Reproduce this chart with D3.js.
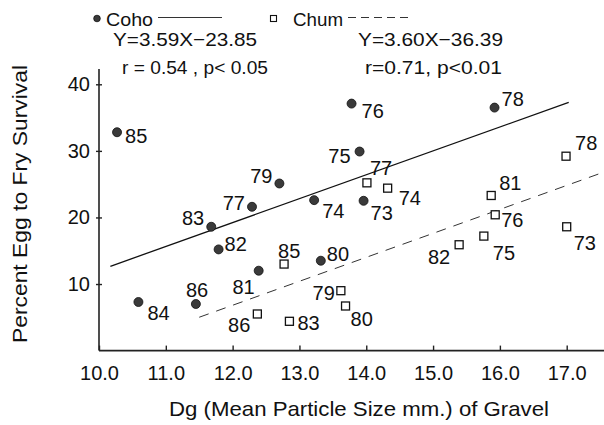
<!DOCTYPE html>
<html>
<head>
<meta charset="utf-8">
<script src="https://cdn.jsdelivr.net/npm/d3@7"></script>
<style>
  html, body { margin: 0; padding: 0; background: #fff; }
  svg { display: block; font-family: "Liberation Sans", Arial, Helvetica, sans-serif; }
  text { fill: #111; }
</style>
</head>
<body>
<svg id="chart" width="604" height="425"></svg>
<script>
// Coho salmon: mean gravel particle size (mm) vs percent egg-to-fry survival, by brood year
const cohoYear = ["85", "79", "77", "83", "74", "82", "75", "76", "78", "73", "81", "80", "86", "84"];
const cohoDg   = [10.27, 12.70, 12.29, 11.68, 13.22, 11.79, 13.90, 13.78, 15.92, 13.96, 12.39, 13.32, 11.45, 10.59];
const cohoSurv = [32.8, 25.1, 21.6, 18.6, 22.6, 15.2, 29.9, 37.1, 36.5, 22.5, 12.0, 13.5, 7.0, 7.3];

// Chum salmon
const chumYear = ["77", "74", "81", "76", "78", "73", "75", "82", "85", "79", "80", "86", "83"];
const chumDg   = [14.01, 14.32, 15.87, 15.93, 16.99, 17.00, 15.76, 15.39, 12.77, 13.62, 13.69, 12.37, 12.85];
const chumSurv = [25.2, 24.4, 23.3, 20.4, 29.2, 18.6, 17.2, 15.9, 13.0, 9.0, 6.7, 5.5, 4.4];

// Regression fits (slope, intercept) and the x-range each line spans
const cohoFit = [3.59, -23.85];
const chumFit = [3.60, -36.39];
const cohoFitRange = [10.17, 17.03];
const chumFitRange = [11.50, 17.56];

const xTicks = [10, 11, 12, 13, 14, 15, 16, 17];
const xTickLabels = ["10.0", "11.0", "12.0", "13.0", "14.0", "15.0", "16.0", "17.0"];
const yTicks = [10, 20, 30, 40];

// Year-label placement around each marker: [anchor, dx, dy]
const cohoLabelPos = {
  "85": ["start", 8, 11], "79": ["end", -7, 0], "77": ["end", -7, 3], "83": ["end", -7, -2],
  "74": ["start", 8, 18], "82": ["start", 6, 2], "75": ["end", -9, 11], "76": ["start", 10, 14],
  "78": ["start", 7, -2], "73": ["start", 7, 19], "81": ["end", -4, 23], "80": ["start", 6, 0],
  "86": ["start", -10, -7], "84": ["start", 9, 18]
};
const chumLabelPos = {
  "77": ["start", 3, -8], "74": ["start", 11, 17], "81": ["start", 8, -5], "76": ["start", 6, 12],
  "78": ["start", 9, -6], "73": ["start", 7, 23], "75": ["start", 9, 24], "82": ["end", -9, 19],
  "85": ["start", -6, -6], "79": ["end", -6, 9], "80": ["start", 5, 20], "86": ["end", -7, 18],
  "83": ["start", 8, 9]
};

const svg = d3.select("#chart");

const x = d3.scaleLinear().domain([10, 17]).range([99, 566.7]);
const y = d3.scaleLinear().domain([0, 40]).range([350.6, 84.3]);

// Axis lines
svg.append("line")
  .attr("x1", x(10)).attr("x2", x(10))
  .attr("y1", y(42.3)).attr("y2", y(0))
  .attr("stroke", "#222").attr("stroke-width", 1.6);
svg.append("line")
  .attr("x1", x(10)).attr("x2", 604)
  .attr("y1", y(0)).attr("y2", y(0))
  .attr("stroke", "#222").attr("stroke-width", 1.6);

// X axis
const xAxis = d3.axisBottom(x)
  .tickValues(xTicks)
  .tickFormat((d, i) => xTickLabels[i])
  .tickSizeInner(-4).tickSizeOuter(0).tickPadding(15);
const gx = svg.append("g").attr("transform", `translate(0,${y(0)})`).call(xAxis);
gx.select(".domain").remove();
gx.selectAll(".tick line").attr("stroke", "#222").attr("stroke-width", 1.4).attr("y2", -5);
gx.selectAll(".tick text").attr("font-size", 20).attr("font-family", null).attr("fill", "#111");

// Y axis
const yAxis = d3.axisLeft(y).tickValues(yTicks).tickSizeInner(0).tickSizeOuter(0).tickPadding(9);
const gy = svg.append("g").attr("transform", `translate(${x(10)},0)`).call(yAxis);
gy.select(".domain").remove();
gy.selectAll(".tick line").attr("x1", -3).attr("x2", 3).attr("stroke", "#222").attr("stroke-width", 1.4);
gy.selectAll(".tick text").attr("font-size", 20).attr("font-family", null).attr("fill", "#111");

// Axis titles
svg.append("text")
  .attr("x", 359).attr("y", 416)
  .attr("text-anchor", "middle")
  .attr("font-size", 21)
  .attr("textLength", 380).attr("lengthAdjust", "spacingAndGlyphs")
  .text("Dg (Mean Particle Size mm.) of Gravel");

svg.append("text")
  .attr("transform", "translate(27,204) rotate(-90)")
  .attr("text-anchor", "middle")
  .attr("font-size", 21)
  .attr("textLength", 278).attr("lengthAdjust", "spacingAndGlyphs")
  .text("Percent Egg to Fry Survival");

// Regression lines
const fitLine = (fit, range) => range.map(v => [x(v), y(fit[0] * v + fit[1])]);
const line = d3.line();
svg.append("path")
  .attr("d", line(fitLine(cohoFit, cohoFitRange)))
  .attr("stroke", "#111").attr("stroke-width", 1.3).attr("fill", "none");
svg.append("path")
  .attr("d", line(fitLine(chumFit, chumFitRange)))
  .attr("stroke", "#333").attr("stroke-width", 1).attr("fill", "none")
  .attr("stroke-dasharray", "10,8");

// Markers
const coho = cohoYear.map((yr, i) => ({ yr, dg: cohoDg[i], s: cohoSurv[i] }));
const chum = chumYear.map((yr, i) => ({ yr, dg: chumDg[i], s: chumSurv[i] }));

svg.append("g").selectAll("circle").data(coho).join("circle")
  .attr("cx", d => x(d.dg)).attr("cy", d => y(d.s)).attr("r", 4.5)
  .attr("fill", "#3a3a3a").attr("stroke", "#111").attr("stroke-width", 0.8);

svg.append("g").selectAll("rect").data(chum).join("rect")
  .attr("x", d => x(d.dg) - 4).attr("y", d => y(d.s) - 4)
  .attr("width", 8).attr("height", 8)
  .attr("fill", "#fff").attr("stroke", "#111").attr("stroke-width", 1.3);

// Year labels
function yearLabels(data, pos) {
  svg.append("g").selectAll("text").data(data).join("text")
    .attr("x", d => x(d.dg) + pos[d.yr][1])
    .attr("y", d => y(d.s) + pos[d.yr][2])
    .attr("text-anchor", d => pos[d.yr][0])
    .attr("font-size", 20)
    .text(d => d.yr);
}
yearLabels(coho, cohoLabelPos);
yearLabels(chum, chumLabelPos);

// Legend
const lg = svg.append("g");
lg.append("circle").attr("cx", 97).attr("cy", 18.5).attr("r", 3.3)
  .attr("fill", "#3a3a3a").attr("stroke", "#111").attr("stroke-width", 0.8);
lg.append("text").attr("x", 106).attr("y", 25.5).attr("font-size", 19)
  .attr("textLength", 47).attr("lengthAdjust", "spacingAndGlyphs").text("Coho");
lg.append("line").attr("x1", 158).attr("x2", 222).attr("y1", 17.5).attr("y2", 17.5)
  .attr("stroke", "#333").attr("stroke-width", 1);
lg.append("rect").attr("x", 270.5).attr("y", 15.5).attr("width", 6).attr("height", 6)
  .attr("fill", "#fff").attr("stroke", "#111").attr("stroke-width", 1.1);
lg.append("text").attr("x", 293).attr("y", 25.5).attr("font-size", 19)
  .attr("textLength", 50).attr("lengthAdjust", "spacingAndGlyphs").text("Chum");
lg.append("line").attr("x1", 348).attr("x2", 408).attr("y1", 17.5).attr("y2", 17.5)
  .attr("stroke", "#333").attr("stroke-width", 1).attr("stroke-dasharray", "8,5");

const eq = [
  { t: "Y=3.59X−23.85", x: 113, y: 45.5, w: 144 },
  { t: "r = 0.54 , p< 0.05", x: 122, y: 73.5, w: 146 },
  { t: "Y=3.60X−36.39", x: 358, y: 45.5, w: 145 },
  { t: "r=0.71, p<0.01", x: 365, y: 73.5, w: 137 }
];
lg.selectAll("text.eq").data(eq).join("text").attr("class", "eq")
  .attr("x", d => d.x).attr("y", d => d.y).attr("font-size", 19)
  .attr("textLength", d => d.w).attr("lengthAdjust", "spacingAndGlyphs")
  .text(d => d.t);
</script>
</body>
</html>
